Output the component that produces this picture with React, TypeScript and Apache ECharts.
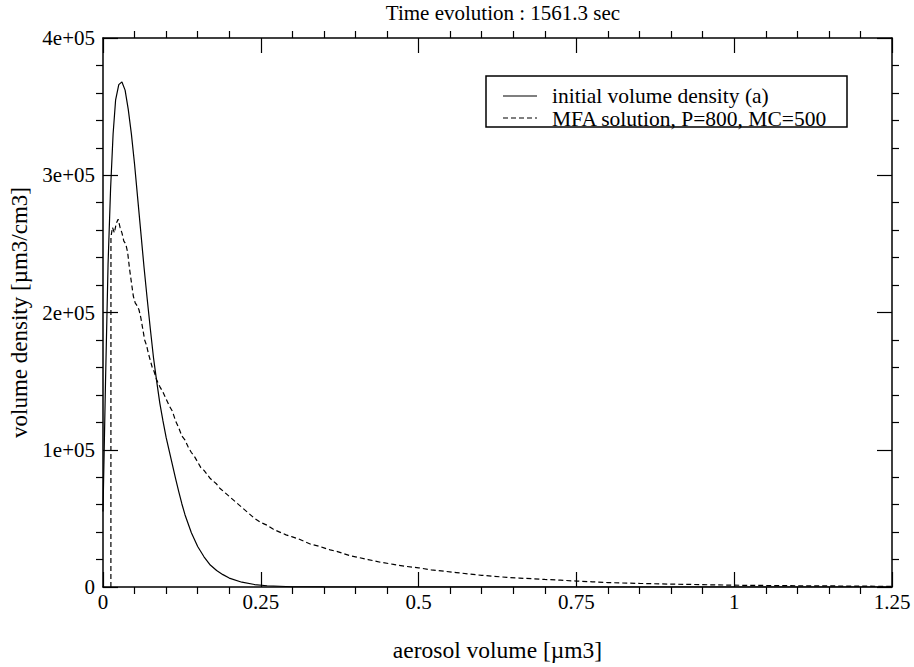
import React, { useEffect, useRef } from "react";
import * as echarts from "echarts";

const titleText = "Time evolution : 1561.3 sec";
const xAxisName = "aerosol volume [µm3]";
const yAxisName = "volume density [µm3/cm3]";
const seriesNames = ["initial volume density (a)", "MFA solution, P=800, MC=500"];

// initial volume density: [x (µm3), value (thousands µm3/cm3)]
const initialX = [0, 0.004, 0.008, 0.012, 0.016, 0.02, 0.025, 0.03, 0.035, 0.04, 0.045, 0.05, 0.055, 0.06, 0.065, 0.07, 0.075, 0.08, 0.085, 0.09, 0.095, 0.1, 0.105, 0.11, 0.115, 0.12, 0.125, 0.13, 0.14, 0.15, 0.16, 0.17, 0.18, 0.19, 0.2, 0.22, 0.24, 0.26, 0.3, 0.35, 0.4, 0.6, 0.8, 1.0, 1.25];
const initialY = [55, 150, 235, 290, 330, 355, 366, 368, 362, 348, 330, 308, 283, 258, 233, 210, 188, 167, 150, 134, 121, 109, 99, 89, 79, 69.5, 60.5, 52.5, 39.5, 29.5, 22, 16, 12, 9, 6.5, 3.5, 1.8, 0.9, 0.2, 0.05, 0, 0, 0, 0, 0];

// MFA solution
const mfaX = [0.0125, 0.0126, 0.015, 0.018, 0.021, 0.024, 0.027, 0.03, 0.033, 0.036, 0.039, 0.042, 0.045, 0.048, 0.051, 0.054, 0.057, 0.06, 0.063, 0.066, 0.069, 0.072, 0.075, 0.078, 0.081, 0.085, 0.09, 0.095, 0.1, 0.105, 0.11, 0.115, 0.12, 0.125, 0.13, 0.135, 0.14, 0.145, 0.15, 0.155, 0.16, 0.165, 0.17, 0.175, 0.18, 0.185, 0.19, 0.195, 0.2, 0.21, 0.22, 0.23, 0.24, 0.25, 0.26, 0.27, 0.28, 0.29, 0.3, 0.31, 0.32, 0.33, 0.34, 0.35, 0.36, 0.37, 0.38, 0.39, 0.4, 0.42, 0.44, 0.46, 0.48, 0.5, 0.52, 0.54, 0.56, 0.58, 0.6, 0.62, 0.64, 0.66, 0.68, 0.7, 0.725, 0.75, 0.775, 0.8, 0.85, 0.9, 0.95, 1.0, 1.05, 1.1, 1.15, 1.2, 1.25];
const mfaY = [0, 255, 262, 258, 265, 268, 262, 258, 252, 250, 244, 232, 222, 212, 207, 205, 202, 196, 188, 180, 176, 170, 165, 160, 157, 151, 146, 142, 137, 132, 128, 121, 116, 110, 107, 102, 98, 95, 91, 87, 85, 82, 79, 77, 75, 72, 70, 68, 66, 62, 58, 54, 50, 47, 45, 42, 40, 38, 36.5, 35, 33, 31, 30, 28.5, 27, 26, 24.5, 23, 22, 20, 18, 16.5, 15, 14, 12.5, 11.5, 10.5, 9.5, 8.5, 7.8, 7, 6.5, 6, 5.5, 5, 4.3, 3.8, 3.2, 2.6, 2.1, 1.7, 1.3, 1.1, 0.9, 0.8, 0.6, 0.5];

const xMin = 0, xMax = 1.25, xStep = 0.25;
const yMin = 0, yMax = 400000, yStep = 100000;

const FONT = "Liberation Serif";
const FS = 21;

export default function App() {
  const ref = useRef<HTMLDivElement>(null);
  useEffect(() => {
    if (!ref.current) return;
    const chart = echarts.init(ref.current, undefined, { renderer: "svg" });
    const G = { left: 101, top: 38, width: 791, height: 554 };
    const tickCommon = {
      axisLine: { show: true, onZero: false, lineStyle: { color: "#000", width: 1.5 } },
      axisTick: { show: true, inside: true, length: 15, lineStyle: { color: "#000", width: 1.2 } },
      minorTick: { show: true, splitNumber: 5, length: -7, lineStyle: { color: "#000", width: 1.2 } },
      splitLine: { show: false },
      minorSplitLine: { show: false },
    };
    const yFmt = (v: number) => (v === 0 ? "0" : `${Math.round(v / 1e5)}e+05`);
    const xFmt = (v: number) => `${+v.toFixed(2)}`;
    const pair = (xs: number[], ys: number[]) => xs.map((x, i) => [x, ys[i] * 1000]);
    const lx = 486, ly = 76, lw = 361, lh = 51;
    const txt = { fill: "#000", fontFamily: FONT };
    chart.setOption({
      animation: false,
      backgroundColor: "#fff",
      grid: { ...G, containLabel: false },
      xAxis: [
        {
          type: "value", min: xMin, max: xMax, interval: xStep, position: "bottom",
          ...tickCommon,
          axisLabel: { show: true, color: "#000", fontFamily: FONT, fontSize: FS, margin: 4, formatter: xFmt, showMaxLabel: true },
          name: xAxisName, nameLocation: "middle", nameGap: 51,
          nameTextStyle: { color: "#000", fontFamily: FONT, fontSize: 23.5 },
        },
        {
          type: "value", min: xMin, max: xMax, interval: xStep, position: "top",
          ...tickCommon, axisLabel: { show: false },
        },
      ],
      yAxis: [
        {
          type: "value", min: yMin, max: yMax, interval: yStep, position: "left",
          ...tickCommon,
          axisLabel: { show: true, color: "#000", fontFamily: FONT, fontSize: FS, margin: 8, formatter: yFmt },
          name: yAxisName, nameLocation: "middle", nameGap: 72,
          nameTextStyle: { color: "#000", fontFamily: FONT, fontSize: 23 },
        },
        {
          type: "value", min: yMin, max: yMax, interval: yStep, position: "right",
          ...tickCommon, axisLabel: { show: false },
        },
      ],
      series: [
        {
          name: seriesNames[0], type: "line", data: pair(initialX, initialY), showSymbol: false,
          lineStyle: { color: "#000", width: 1.2 }, z: 3,
        },
        {
          name: seriesNames[1], type: "line", data: pair(mfaX, mfaY), showSymbol: false,
          lineStyle: { color: "#000", width: 1.2, type: [5, 3] }, z: 3,
        },
      ],
      graphic: [
        {
          type: "text", x: 503, y: 13,
          style: { ...txt, fontSize: 21, text: titleText, textAlign: "center", textVerticalAlign: "middle" },
        },
        {
          type: "rect", shape: { x: lx, y: ly, width: lw, height: lh },
          style: { fill: "#fff", stroke: "#000", lineWidth: 1.5 }, z: 10,
        },
        {
          type: "line", shape: { x1: 503, y1: 96, x2: 537, y2: 96 },
          style: { stroke: "#000", lineWidth: 1.2 }, z: 11,
        },
        {
          type: "line", shape: { x1: 503, y1: 118, x2: 537, y2: 118 },
          style: { stroke: "#000", lineWidth: 1.2, lineDash: [5, 3] }, z: 11,
        },
        {
          type: "text", x: 552, y: 96, z: 11,
          style: { ...txt, fontSize: 21.5, text: seriesNames[0], textVerticalAlign: "middle" },
        },
        {
          type: "text", x: 552, y: 119, z: 11,
          style: { ...txt, fontSize: 21.5, text: seriesNames[1], textVerticalAlign: "middle" },
        },
      ],
    });
    return () => chart.dispose();
  }, []);
  return <div ref={ref} style={{ position: "fixed", left: 0, top: 0, width: 914, height: 667 }} />;
}
